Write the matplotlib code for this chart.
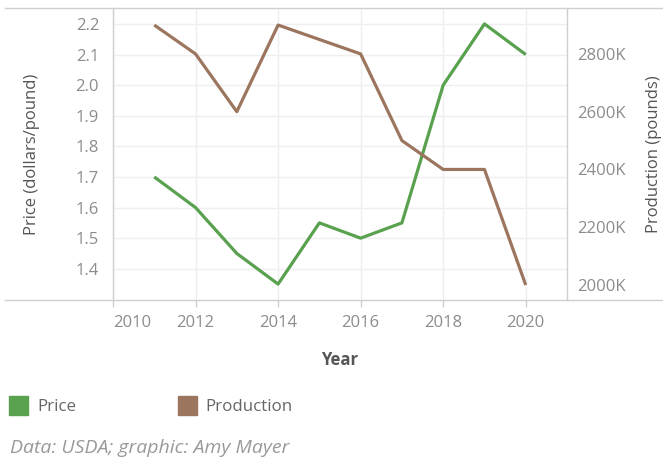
import matplotlib.pyplot as plt
from matplotlib.patches import Rectangle
from matplotlib.lines import Line2D

plt.rcParams['font.family'] = ['Open Sans', 'DejaVu Sans']

years = [2011, 2012, 2013, 2014, 2015, 2016, 2017, 2018, 2019, 2020]
price = [1.70, 1.60, 1.45, 1.35, 1.55, 1.50, 1.55, 2.00, 2.20, 2.10]
production = [2900, 2800, 2600, 2900, 2850, 2800, 2500, 2400, 2400, 2000]  # thousand pounds

x_ticks = [2010, 2012, 2014, 2016, 2018, 2020]
price_ticks = [1.4, 1.5, 1.6, 1.7, 1.8, 1.9, 2.0, 2.1, 2.2]
prod_ticks = [2000, 2200, 2400, 2600, 2800]

GREEN = '#59a14f'
BROWN = '#9c755f'
TICK_COL = '#8c8c8c'
TITLE_COL = '#555555'
AXIS_COL = '#cfcfcf'
GRID_COL = '#efefef'
FS = 12

W, H = 663, 458
fig = plt.figure(figsize=(W / 100, H / 100), dpi=100)
ax = fig.add_axes([113 / W, 1 - 300 / H, 454 / W, 292 / H])
ax2 = ax.twinx()

ax.plot(years, price, color=GREEN, lw=2.3, solid_capstyle='butt', zorder=3)
ax2.plot(years, production, color=BROWN, lw=2.3, solid_capstyle='butt', zorder=3)

ax.set_xlim(2010, 2021)
ax.set_ylim(1.298, 2.252)
ax2.set_ylim(1948, 2959)

ax.set_xticks(x_ticks)
ax.set_xticklabels([str(t) for t in x_ticks])
ax.get_xticklabels()[0].set_ha('left')
ax.set_yticks(price_ticks)
ax.set_yticklabels([f'{t:.1f}' for t in price_ticks])
ax2.set_yticks(prod_ticks)
ax2.set_yticklabels([f'{t}K' for t in prod_ticks])

ax.grid(True, color=GRID_COL, lw=1)
ax.set_axisbelow(True)

for a in (ax, ax2):
    for s in a.spines.values():
        s.set_visible(False)

ax.tick_params(axis='x', colors=AXIS_COL, length=5, width=1, pad=6, labelsize=FS, labelcolor=TICK_COL)
ax.tick_params(axis='y', length=0, pad=10, labelsize=FS, labelcolor=TICK_COL)
ax2.tick_params(axis='y', length=0, pad=7, labelsize=FS, labelcolor=TICK_COL)

ax.set_ylabel('Price (dollars/pound)', fontsize=FS, color=TITLE_COL)
ax.yaxis.set_label_coords(-0.161, 0.5)
ax2.set_ylabel('Production (pounds)', fontsize=FS, color=TITLE_COL)
ax2.yaxis.set_label_coords(1.174, 0.5)
ax.set_xlabel('Year', fontsize=FS, color=TITLE_COL, fontweight='bold')
ax.xaxis.set_label_coords(0.5, -0.173)

# frame lines (top and bottom span the whole width, axes verticals)
fig.add_artist(Line2D([5 / W, 1], [1 - 8 / H] * 2, color=AXIS_COL, lw=1))
fig.add_artist(Line2D([5 / W, 1], [1 - 300 / H] * 2, color=AXIS_COL, lw=1))
fig.add_artist(Line2D([113 / W] * 2, [1 - 300 / H, 1 - 8 / H], color=AXIS_COL, lw=1))
fig.add_artist(Line2D([567 / W] * 2, [1 - 300 / H, 1 - 8 / H], color=AXIS_COL, lw=1))

# legend
fig.add_artist(Rectangle((9 / W, 1 - 415 / H), 19 / W, 19 / H, color=GREEN, transform=fig.transFigure))
fig.text(37 / W, 1 - 407 / H, 'Price', fontsize=12.2, color='#666666', va='center')
fig.add_artist(Rectangle((178 / W, 1 - 415 / H), 19 / W, 19 / H, color=BROWN, transform=fig.transFigure))
fig.text(205 / W, 1 - 407 / H, 'Production', fontsize=12.2, color='#666666', va='center')

fig.text(10 / W, 1 - 448 / H, 'Data: USDA; graphic: Amy Mayer', fontsize=14,
         color='#999999', style='italic', va='center')

fig.savefig('out.png', dpi=100)
